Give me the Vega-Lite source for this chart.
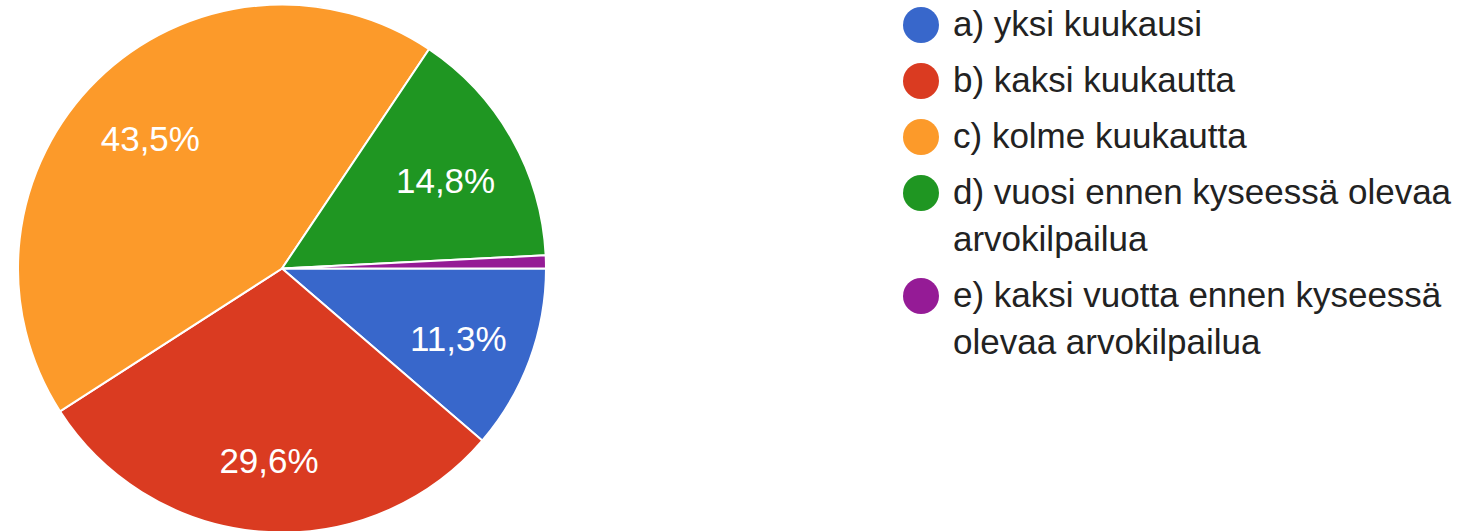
{
  "$schema": "https://vega.github.io/schema/vega-lite/v6.json",
  "width": 564,
  "height": 531,
  "padding": 0,
  "autosize": {"type": "pad"},
  "background": "white",
  "config": {
    "view": {"stroke": null},
    "style": {"guide-label": {"lineHeight": 47}},
    "locale": {"number": {"decimal": ",", "thousands": " ", "grouping": [3], "currency": ["", " €"]}}
  },
  "data": {
    "values": [
      {"vastaus": "a) yksi kuukausi", "osuus": 0.113},
      {"vastaus": "b) kaksi kuukautta", "osuus": 0.296},
      {"vastaus": "c) kolme kuukautta", "osuus": 0.435},
      {"vastaus": "d) vuosi ennen kyseessä olevaa arvokilpailua", "osuus": 0.148},
      {"vastaus": "e) kaksi vuotta ennen kyseessä olevaa arvokilpailua", "osuus": 0.008}
    ]
  },
  "encoding": {
    "theta": {"field": "osuus", "type": "quantitative", "stack": true, "scale": {"range": [1.5707963, 7.8539816]}},
    "order": {"field": "vastaus", "type": "nominal", "sort": "ascending"}
  },
  "layer": [
    {
      "mark": {"type": "arc", "outerRadius": 264, "stroke": "white", "strokeWidth": 2},
      "encoding": {
        "color": {
          "field": "vastaus",
          "type": "nominal",
          "scale": {"range": ["#3867cb", "#da3b21", "#fc9a2a", "#1f9622", "#951b96"]},
          "legend": {
            "orient": "none",
            "legendX": 903,
            "legendY": 4,
            "title": null,
            "padding": 0,
            "symbolType": "circle",
            "symbolSize": 1296,
            "symbolStrokeWidth": 0,
            "labelFont": "Liberation Sans",
            "labelFontSize": 35,
            "labelColor": "#222222",
            "labelOffset": 14,
            "labelLimit": 1000,
            "rowPadding": 20,
            "labelExpr": "datum.label == 'd) vuosi ennen kyseessä olevaa arvokilpailua' ? ['d) vuosi ennen kyseessä olevaa', 'arvokilpailua'] : datum.label == 'e) kaksi vuotta ennen kyseessä olevaa arvokilpailua' ? ['e) kaksi vuotta ennen kyseessä', 'olevaa arvokilpailua'] : datum.label"
          }
        }
      }
    },
    {
      "transform": [{"filter": "datum.osuus > 0.05"}],
      "mark": {"type": "text", "radius": 188, "dy": 6, "font": "Liberation Sans", "fontSize": 35, "fill": "white"},
      "encoding": {
        "text": {"field": "osuus", "type": "quantitative", "format": ".1%"}
      }
    }
  ]
}
